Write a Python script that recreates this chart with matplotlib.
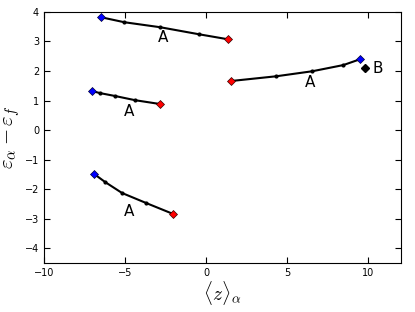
import matplotlib
matplotlib.use('Agg')
import matplotlib.pyplot as plt

plt.rcParams['mathtext.fontset'] = 'cm'

# 各経路のデータ (<z>_alpha, eps_alpha - eps_f)
x1 = [-6.5, -5.06, -2.84, -0.43, 1.36]
y1 = [3.82, 3.65, 3.48, 3.24, 3.07]
x2 = [-7.04, -6.54, -5.6, -4.38, -2.84]
y2 = [1.32, 1.25, 1.15, 1.01, 0.88]
x3 = [1.54, 4.32, 6.54, 8.46, 9.5]
y3 = [1.66, 1.82, 1.99, 2.2, 2.4]
x4 = [-6.9, -6.23, -5.19, -3.7, -2.04]
y4 = [-1.49, -1.76, -2.13, -2.47, -2.84]
xb, yb = 9.8, 2.09

# ラベル位置
label_text = ['A', 'A', 'A', 'A', 'B']
label_x = [-2.65, -4.75, 6.4, -4.75, 10.55]
label_y = [3.13, 0.64, 1.62, -2.77, 2.09]

# 始点(blue)と終点(red)
paths = [(x1, y1, 'start'), (x2, y2, 'start'), (x3, y3, 'end'), (x4, y4, 'start')]

fig = plt.figure(figsize=(4.15, 3.12), dpi=100)
ax = fig.add_axes([0.106, 0.157, 0.86, 0.805])

for xs, ys, blue_at in paths:
    ax.plot(xs, ys, color='black', lw=1.5, marker='.', ms=4, zorder=2)
    if blue_at == 'start':
        bi, ri = 0, -1
    else:
        bi, ri = -1, 0
    ax.plot(xs[bi], ys[bi], 'D', color='blue', mec='#000033', mew=0.5, ms=4.5, zorder=3)
    ax.plot(xs[ri], ys[ri], 'D', color='red', mec='#330000', mew=0.5, ms=4.5, zorder=3)

ax.plot(xb, yb, 'D', color='black', ms=4, zorder=3)

for t, lx, ly in zip(label_text, label_x, label_y):
    ax.text(lx, ly, t, fontsize=11, ha='center', va='center')

ax.set_xlim(-10, 12)
ax.set_ylim(-4.5, 4)
ax.set_xticks([-10, -5, 0, 5, 10])
ax.set_yticks([-4, -3, -2, -1, 0, 1, 2, 3, 4])
ax.tick_params(direction='in', top=True, right=True, labelsize=7, length=4)
ax.set_xlabel(r'$\langle z\rangle_\alpha$', fontsize=14, labelpad=1)
ax.set_ylabel(r'$\varepsilon_\alpha - \varepsilon_f$', fontsize=15, labelpad=2)

plt.savefig('out.png', dpi=100)
